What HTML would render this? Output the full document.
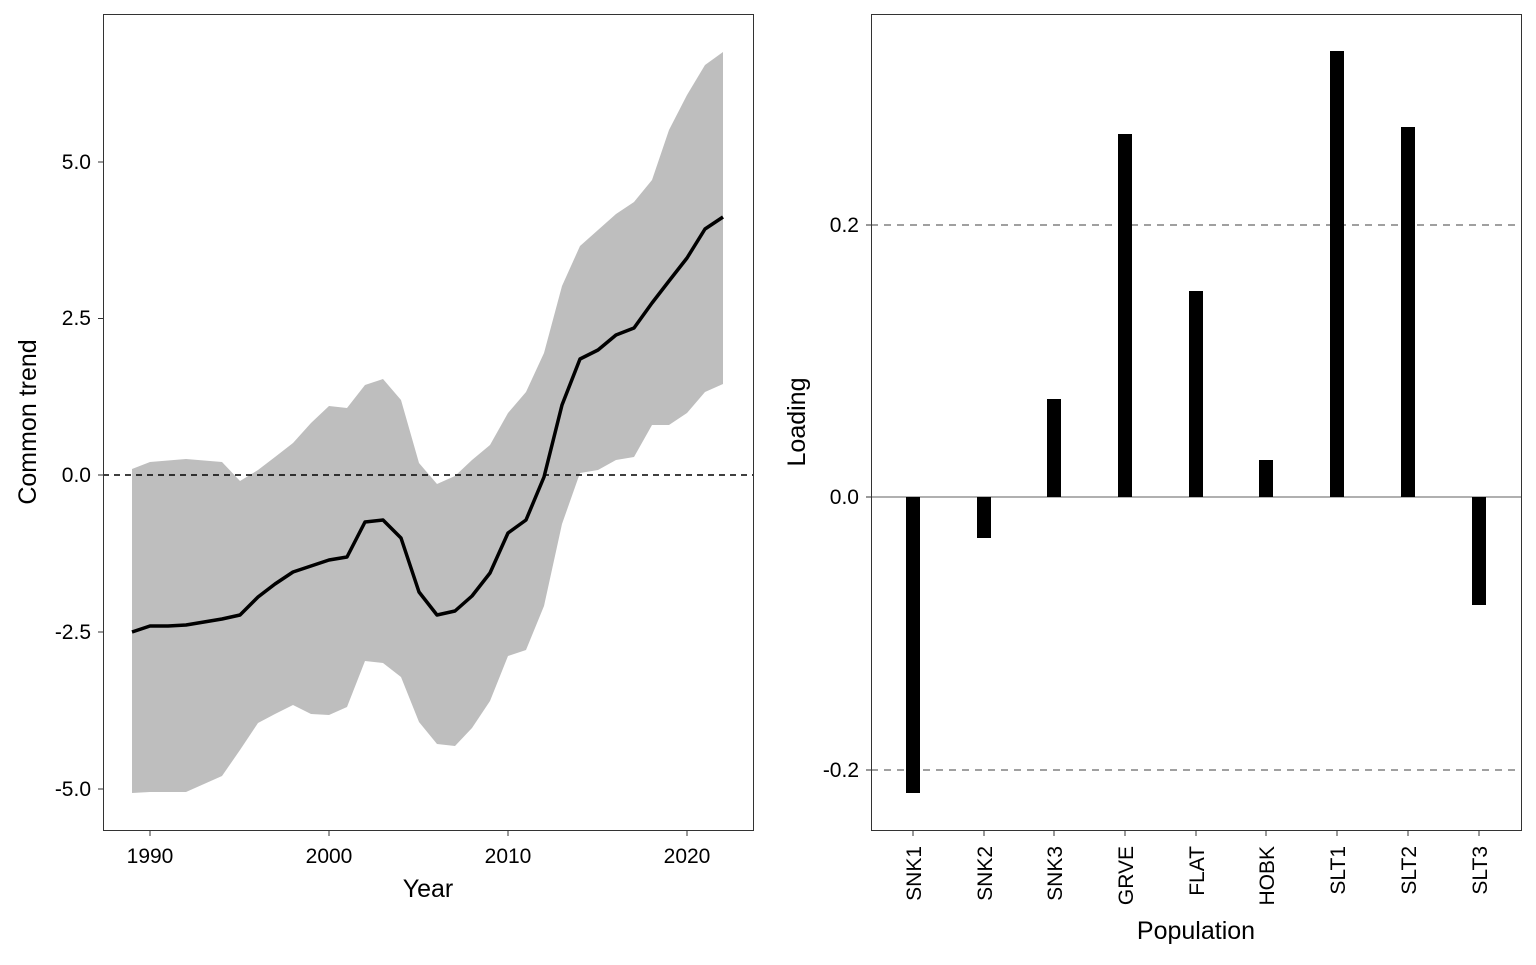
<!DOCTYPE html>
<html><head><meta charset="utf-8"><style>
html,body{margin:0;padding:0;background:#fff;}
svg text{font-family:"Liberation Sans",Arial,sans-serif;fill:#000;}
</style></head><body>
<svg width="1536" height="960" xmlns="http://www.w3.org/2000/svg">
<polygon fill="#bebebe" points="
132,469 150,462 186,459 222,462 240,481 258,470 275,457 293,443 311,423 329,406 347,408 365,385 383,379 401,400 419,463 437,484 455,476 472,460 490,445 508,413 526,392 544,353 562,286 580,246 598,230 616,214 634,202 652,180 669,130 687,95 705,65 723,52
723,384 705,392 687,413 669,425 652,425 634,457 616,460 598,470 580,473 562,524 544,606 526,650 508,656 490,701 472,728 455,746 437,744 419,722 401,677 383,663 365,661 347,707 329,715 311,714 293,705 275,714 258,723 240,750 222,776 186,792 150,792 132,793"/>
<line x1="103" y1="475" x2="753" y2="475" stroke="#000" stroke-width="1.6" stroke-dasharray="6,5"/>
<polyline fill="none" stroke="#000" stroke-width="3.5" stroke-linejoin="round" points="
132,632 150,626 168,626 186,625 204,622 222,619 240,615 258,597 275,584 293,572 311,566 329,560 347,557 365,522 383,520 401,538 419,592 437,615 455,611 472,596 490,573 508,533 526,520 544,477 562,405 580,359 598,350 616,335 634,328 652,303 669,281 687,258 705,229 723,217"/>
<rect x="103.5" y="14.5" width="650" height="816" fill="none" stroke="#333" stroke-width="1"/>
<g stroke="#333" stroke-width="1">
<line x1="98" y1="162" x2="103" y2="162"/><line x1="98" y1="318.5" x2="103" y2="318.5"/>
<line x1="98" y1="475" x2="103" y2="475"/><line x1="98" y1="632" x2="103" y2="632"/><line x1="98" y1="789" x2="103" y2="789"/>
<line x1="150" y1="830" x2="150" y2="836"/><line x1="329" y1="830" x2="329" y2="836"/>
<line x1="508" y1="830" x2="508" y2="836"/><line x1="687" y1="830" x2="687" y2="836"/>
</g>
<g font-size="21" text-anchor="end">
<text x="91" y="169">5.0</text><text x="91" y="325">2.5</text><text x="91" y="482">0.0</text>
<text x="91" y="639">-2.5</text><text x="91" y="796">-5.0</text>
</g>
<g font-size="21" text-anchor="middle">
<text x="150" y="863">1990</text><text x="329" y="863">2000</text><text x="508" y="863">2010</text><text x="687" y="863">2020</text>
</g>
<text x="428" y="897" font-size="25" text-anchor="middle">Year</text>
<text transform="translate(36,422) rotate(-90)" font-size="25" text-anchor="middle">Common trend</text>

<line x1="871" y1="225" x2="1521" y2="225" stroke="#808080" stroke-width="1.5" stroke-dasharray="7,6"/>
<line x1="871" y1="770" x2="1521" y2="770" stroke="#808080" stroke-width="1.5" stroke-dasharray="7,6"/>
<line x1="871" y1="497" x2="1521" y2="497" stroke="#808080" stroke-width="1.3"/>
<g fill="#000">
<rect x="906" y="497" width="14" height="296"/>
<rect x="977" y="497" width="14" height="41"/>
<rect x="1047" y="399" width="14" height="98"/>
<rect x="1118" y="134" width="14" height="363"/>
<rect x="1189" y="291" width="14" height="206"/>
<rect x="1259" y="460" width="14" height="37"/>
<rect x="1330" y="51" width="14" height="446"/>
<rect x="1401" y="127" width="14" height="370"/>
<rect x="1472" y="497" width="14" height="108"/>
</g>
<rect x="871.5" y="14.5" width="650" height="816" fill="none" stroke="#333" stroke-width="1"/>
<g stroke="#333" stroke-width="1">
<line x1="866" y1="225" x2="871" y2="225"/><line x1="866" y1="497" x2="871" y2="497"/><line x1="866" y1="770" x2="871" y2="770"/>
<line x1="913" y1="830" x2="913" y2="836"/><line x1="984" y1="830" x2="984" y2="836"/><line x1="1054" y1="830" x2="1054" y2="836"/>
<line x1="1125" y1="830" x2="1125" y2="836"/><line x1="1196" y1="830" x2="1196" y2="836"/><line x1="1266" y1="830" x2="1266" y2="836"/>
<line x1="1337" y1="830" x2="1337" y2="836"/><line x1="1408" y1="830" x2="1408" y2="836"/><line x1="1479" y1="830" x2="1479" y2="836"/>
</g>
<g font-size="21" text-anchor="end">
<text x="859" y="232">0.2</text><text x="859" y="504">0.0</text><text x="859" y="777">-0.2</text>
</g>
<g font-size="21" text-anchor="end">
<text transform="translate(921,846) rotate(-90)">SNK1</text>
<text transform="translate(992,846) rotate(-90)">SNK2</text>
<text transform="translate(1062,846) rotate(-90)">SNK3</text>
<text transform="translate(1133,846) rotate(-90)">GRVE</text>
<text transform="translate(1204,846) rotate(-90)">FLAT</text>
<text transform="translate(1274,846) rotate(-90)">HOBK</text>
<text transform="translate(1345,846) rotate(-90)">SLT1</text>
<text transform="translate(1416,846) rotate(-90)">SLT2</text>
<text transform="translate(1487,846) rotate(-90)">SLT3</text>
</g>
<text x="1196" y="939" font-size="25" text-anchor="middle">Population</text>
<text transform="translate(805,422) rotate(-90)" font-size="25" text-anchor="middle">Loading</text>
</svg>
</body></html>
